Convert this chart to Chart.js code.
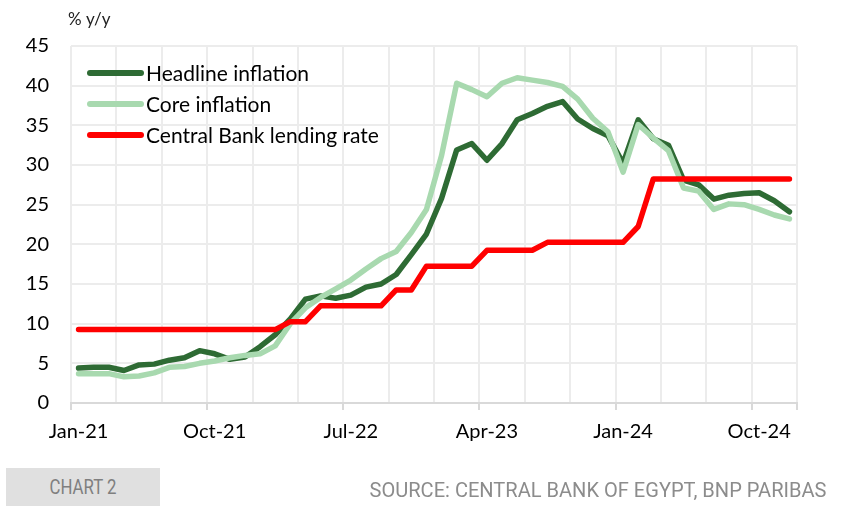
<!DOCTYPE html>
<html>
<head>
<meta charset="utf-8">
<script src="https://cdn.jsdelivr.net/npm/chart.js@4.4.1/dist/chart.umd.min.js"></script>
<style>
  html, body { margin: 0; padding: 0; background: #fff; }
  #wrap { position: relative; width: 841px; height: 512px; }
  #chart2box { position: absolute; left: 6px; top: 468px; width: 154px; height: 38px; background: #e0e0e0; }
  #chart2box span { position: absolute; left: 0; width: 154px; top: 0; line-height: 38px; text-align: center;
    font-family: Roboto, sans-serif; font-size: 21px; color: #7f7f7f; transform: scaleX(0.8); }
  #source { position: absolute; right: 15px; top: 476px; line-height: 28px; font-family: Roboto, sans-serif;
    font-size: 21px; color: #8c8c8c; transform: scaleX(0.955); transform-origin: right center; white-space: nowrap; }
</style>
</head>
<body>
<div id="wrap">
  <canvas id="mycanvas" width="841" height="512"></canvas>
  <div id="chart2box"><span>CHART 2</span></div>
  <div id="source">SOURCE: CENTRAL BANK OF EGYPT, BNP PARIBAS</div>
</div>
<script>
// monthly, Jan-21 .. Dec-24
var months = [
  "Jan-21","Feb-21","Mar-21","Apr-21","May-21","Jun-21","Jul-21","Aug-21","Sep-21","Oct-21","Nov-21","Dec-21",
  "Jan-22","Feb-22","Mar-22","Apr-22","May-22","Jun-22","Jul-22","Aug-22","Sep-22","Oct-22","Nov-22","Dec-22",
  "Jan-23","Feb-23","Mar-23","Apr-23","May-23","Jun-23","Jul-23","Aug-23","Sep-23","Oct-23","Nov-23","Dec-23",
  "Jan-24","Feb-24","Mar-24","Apr-24","May-24","Jun-24","Jul-24","Aug-24","Sep-24","Oct-24","Nov-24","Dec-24"
];

var headline = [
  4.4, 4.5, 4.5, 4.1, 4.8, 4.9, 5.4, 5.7, 6.6, 6.2, 5.5, 5.8,
  7.1, 8.6, 10.6, 13.1, 13.5, 13.2, 13.6, 14.6, 15.0, 16.2, 18.7, 21.3,
  25.8, 31.9, 32.7, 30.6, 32.7, 35.7, 36.5, 37.4, 38.0, 35.8, 34.6, 33.7,
  30.2, 35.7, 33.3, 32.5, 28.1, 27.5, 25.7, 26.2, 26.4, 26.5, 25.5, 24.1
];

var core = [
  3.7, 3.7, 3.7, 3.3, 3.4, 3.8, 4.5, 4.6, 5.0, 5.3, 5.7, 6.0,
  6.2, 7.2, 10.0, 12.0, 13.3, 14.4, 15.5, 16.9, 18.2, 19.1, 21.5, 24.4,
  31.2, 40.3, 39.5, 38.6, 40.3, 41.0, 40.7, 40.4, 39.9, 38.3, 35.9, 34.2,
  29.1, 35.1, 33.4, 31.8, 27.1, 26.7, 24.4, 25.1, 25.0, 24.4, 23.7, 23.2
];

var lendingRate = [
  9.25, 9.25, 9.25, 9.25, 9.25, 9.25, 9.25, 9.25, 9.25, 9.25, 9.25, 9.25,
  9.25, 9.25, 10.25, 10.25, 12.25, 12.25, 12.25, 12.25, 12.25, 14.25, 14.25, 17.25,
  17.25, 17.25, 17.25, 19.25, 19.25, 19.25, 19.25, 20.25, 20.25, 20.25, 20.25, 20.25,
  20.25, 22.25, 28.25, 28.25, 28.25, 28.25, 28.25, 28.25, 28.25, 28.25, 28.25, 28.25
];

var yTicks = [0, 5, 10, 15, 20, 25, 30, 35, 40, 45];

var gridCol = "#ececec";
var font = { family: "Lato", size: 20 };

// legend drawn inside the plot, plus the "% y/y" unit
var overlay = {
  id: "overlay",
  afterDraw: function(chart) {
    var c = chart.ctx;
    c.save();
    c.textBaseline = "middle";
    c.font = "17px Lato";
    c.fillStyle = "#222";
    c.fillText("% y/y", 68, 20);
    var items = [0, 1, 2];
    items.forEach(function(i) {
      var ds = chart.data.datasets[i];
      var y = 73 + i * 31;
      c.strokeStyle = ds.borderColor;
      c.lineWidth = 6;
      c.lineCap = "round";
      c.beginPath();
      c.moveTo(90, y);
      c.lineTo(141, y);
      c.stroke();
      c.font = "21px Lato";
      c.fillStyle = "#000";
      c.fillText(ds.label, 146, y + 1);
    });
    c.restore();
  }
};

var chartdata = {
  labels: months,
  datasets: [
    {
      label: "Headline inflation",
      data: headline,
      borderColor: "#2e6b34",
      borderWidth: 5.5,
      order: 2
    },
    {
      label: "Core inflation",
      data: core,
      borderColor: "#a8d9af",
      borderWidth: 5.5,
      order: 1
    },
    {
      label: "Central Bank lending rate",
      data: lendingRate,
      borderColor: "#ff0000",
      borderWidth: 5.5,
      order: 0
    }
  ]
};

var ctx = document.getElementById("mycanvas");

var LineGraph = new Chart(ctx, {
  type: "line",
  data: chartdata,
  plugins: [overlay],
  options: {
    responsive: false,
    animation: false,
    layout: { padding: { top: 46, left: 0, right: 44, bottom: 59 } },
    elements: {
      point: { radius: 0 },
      line: { tension: 0, borderJoinStyle: "round", borderCapStyle: "round", fill: false }
    },
    plugins: {
      legend: { display: false },
      tooltip: { enabled: false }
    },
    scales: {
      x: {
        type: "category",
        offset: true,
        afterFit: function(scale) { scale.height = 50; },
        grid: {
          offset: true,
          drawTicks: true,
          tickLength: 7,
          lineWidth: 2,
          borderDash: [5, 2],
          color: function(c) {
            if (c.index === undefined || c.index % 3 === 0) return gridCol;
            return "rgba(0,0,0,0)";
          },
          tickColor: function(c) {
            if (c.index === undefined || c.index % 9 === 0) return "#d9d9d9";
            return "rgba(0,0,0,0)";
          },
          tickWidth: 2
        },
        border: { display: true, color: "#d9d9d9", width: 2 },
        ticks: {
          autoSkip: false,
          maxRotation: 0,
          padding: 10,
          color: "#000",
          font: font,
          callback: function(val, i) { return i % 9 === 0 ? months[i] : ""; }
        }
      },
      y: {
        min: yTicks[0],
        max: yTicks[yTicks.length - 1],
        afterFit: function(scale) { scale.width = 71; },
        afterBuildTicks: function(scale) {
          scale.ticks = yTicks.map(function(v) { return { value: v }; });
        },
        grid: {
          drawTicks: false,
          lineWidth: 2,
          borderDash: [5, 2],
          color: gridCol
        },
        border: { display: false },
        ticks: {
          padding: 22,
          color: "#000",
          font: font
        }
      }
    }
  }
});
</script>
</body>
</html>
